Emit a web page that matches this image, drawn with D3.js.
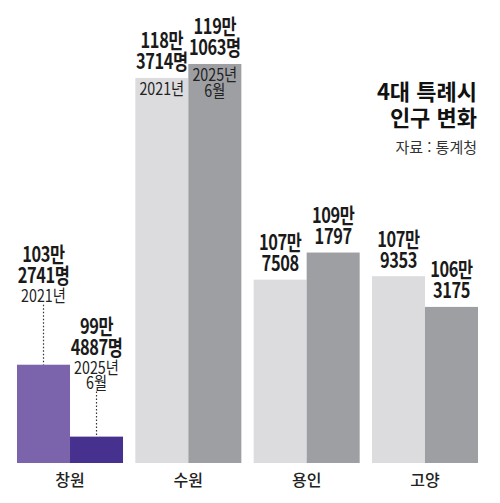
<!DOCTYPE html>
<html lang="ko">
<head>
  <meta charset="UTF-8" />
  <title>4대 특례시 인구 변화</title>
  <script src="https://d3js.org/d3.v7.min.js"></script>
  <style>
    html, body { margin: 0; padding: 0; background: #fff; }
    svg { display: block; font-family: "Noto Sans CJK KR", "Noto Sans", sans-serif; }
    .val { font-weight: 700; font-size: 21px; letter-spacing: -0.5px; fill: #1a1a1a; }
    .yr { font-weight: 400; font-size: 17px; fill: #222; }
    .cat { font-size: 16px; font-weight: 500; fill: #222; }
    .title { font-weight: 700; font-size: 22px; fill: #111; }
    .src { font-size: 15px; fill: #333; }
  </style>
</head>
<body>
  <svg width="500" height="503"></svg>

  <script>
    const cities = ["창원", "수원", "용인", "고양"];
    const years = ["2021년", "2025년 6월"];
    const pop2021 = [1032741, 1183714, 1077508, 1079353];
    const pop2025 = [994887, 1191063, 1091797, 1063175];
    const lightColors = ["#7c64ad", "#dcdcdf", "#dcdcdf", "#dcdcdf"];
    const darkColors = ["#47318e", "#9e9fa3", "#9e9fa3", "#9e9fa3"];

    const svg = d3.select("svg");

    const bars = [];
    cities.forEach((c, i) => {
      bars.push({ city: c, year: years[0], value: pop2021[i], color: lightColors[i] });
      bars.push({ city: c, year: years[1], value: pop2025[i], color: darkColors[i] });
    });

    const x0 = d3.scaleBand().domain(cities).range([17, 478]).paddingInner(0.104).paddingOuter(0);
    const x1 = d3.scaleBand().domain(years).range([0, x0.bandwidth()]).padding(0);
    // axis is cut, bars start well above zero
    const y = d3.scaleLinear().domain([981000, 1200000]).range([463, 47]);

    const cx = d => x0(d.city) + x1(d.year) + x1.bandwidth() / 2;

    svg.append("g")
      .selectAll("rect")
      .data(bars)
      .join("rect")
        .attr("x", d => x0(d.city) + x1(d.year))
        .attr("y", d => y(d.value))
        .attr("width", x1.bandwidth())
        .attr("height", d => y.range()[0] - y(d.value))
        .attr("fill", d => d.color);

    const man = v => Math.floor(v / 10000) + "만";
    const rest = v => String(v % 10000).padStart(4, "0");

    const lab = svg.append("g");
    // condensed look: squeeze glyphs horizontally
    const put = (cls, x, yy, str, sx) =>
      lab.append("text").attr("class", cls)
        .attr("transform", `translate(${x},${yy}) scale(${sx},1)`)
        .attr("dy", "0.35em")
        .attr("text-anchor", "middle")
        .text(str);

    bars.forEach(d => {
      const x = cx(d);
      const top = y(d.value);
      if (d.city === "창원") {
        // short bars: labels lifted with dotted leader
        const t = top - 110;
        put("val", x, t, man(d.value), 0.78);
        put("val", x, t + 21, rest(d.value) + "명", 0.78);
        const parts = d.year.split(" ");
        parts.forEach((p, k) => put("yr", x, t + 41 + k * 15, p, 0.84));
        const lineStart = t + 41 + (parts.length - 1) * 15 + 9;
        lab.append("line")
          .attr("x1", x).attr("x2", x)
          .attr("y1", lineStart).attr("y2", top)
          .attr("stroke", "#333").attr("stroke-width", 1.2)
          .attr("stroke-dasharray", "1.5,2");
      } else {
        const unit = d.city === "수원" ? "명" : "";
        put("val", x, top - 37, man(d.value), 0.78);
        put("val", x, top - 16, rest(d.value) + unit, 0.78);
        if (d.city === "수원") {
          d.year.split(" ").forEach((p, k) => put("yr", x, top + 11 + k * 16, p, 0.84));
        }
      }
    });

    svg.append("g")
      .selectAll("text")
      .data(cities)
      .join("text")
        .attr("class", "cat")
        .attr("x", d => x0(d) + x0.bandwidth() / 2)
        .attr("y", 480)
        .attr("dy", "0.35em")
        .attr("text-anchor", "middle")
        .text(d => d);

    svg.append("text").attr("class", "title").attr("x", 477).attr("y", 92).attr("dy", "0.35em")
      .attr("text-anchor", "end").text("4대 특례시");
    svg.append("text").attr("class", "title").attr("x", 477).attr("y", 118).attr("dy", "0.35em")
      .attr("text-anchor", "end").text("인구 변화");
    svg.append("text").attr("class", "src").attr("x", 477).attr("y", 148).attr("dy", "0.35em")
      .attr("text-anchor", "end").text("자료 : 통계청");
  </script>
</body>
</html>
